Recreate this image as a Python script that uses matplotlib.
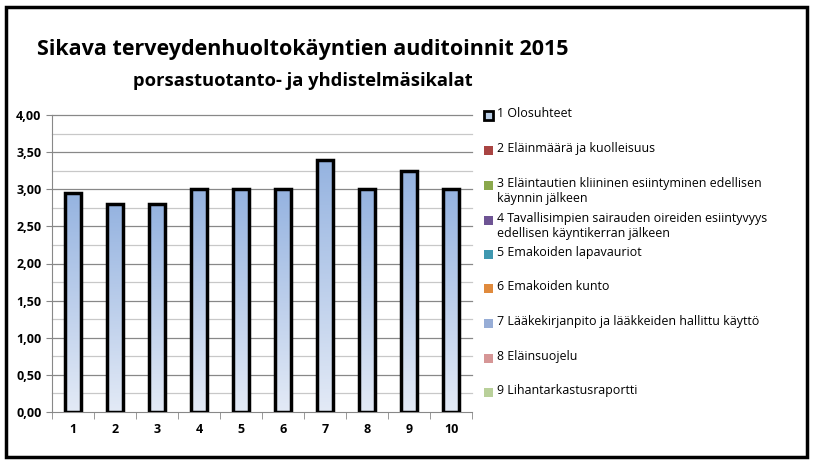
import matplotlib
matplotlib.use("Agg")
import matplotlib.pyplot as plt
import numpy as np
from matplotlib.patches import Rectangle
from matplotlib.colors import LinearSegmentedColormap

plt.rcParams["font.family"] = "Open Sans"

categories = ["1", "2", "3", "4", "5", "6", "7", "8", "9", "10"]
values = [2.95, 2.80, 2.80, 3.00, 3.00, 3.00, 3.40, 3.00, 3.25, 3.00]
legend_labels = [
    "1 Olosuhteet",
    "2 Eläinmäärä ja kuolleisuus",
    "3 Eläintautien kliininen esiintyminen edellisen\nkäynnin jälkeen",
    "4 Tavallisimpien sairauden oireiden esiintyvyys\nedellisen käyntikerran jälkeen",
    "5 Emakoiden lapavauriot",
    "6 Emakoiden kunto",
    "7 Lääkekirjanpito ja lääkkeiden hallittu käyttö",
    "8 Eläinsuojelu",
    "9 Lihantarkastusraportti",
]
legend_colors = ["#b9cde5", "#a94442", "#8aa84c", "#6e5494", "#3f98b0",
                 "#e08a3c", "#97add6", "#d69696", "#b9d09a"]
legend_y = [115, 150, 185, 220, 254, 288, 323, 358, 392]

W, H = 813, 465
fig = plt.figure(figsize=(W / 100, H / 100), dpi=100)
fig.patches.append(Rectangle((6 / W, 8 / H), 801 / W, 450 / H, transform=fig.transFigure,
                             fill=False, edgecolor="black", linewidth=2.5))

ax = fig.add_axes([52 / W, 1 - 412 / H, 420 / W, 297 / H])
x = np.arange(len(categories))
bars = ax.bar(x, values, width=0.4, facecolor="none", edgecolor="black", linewidth=2.5, zorder=3)
cmap = LinearSegmentedColormap.from_list("g", ["#e3eaf6", "#95b3e0"])
grad = np.linspace(0, 1, 256).reshape(-1, 1)
for b in bars:
    bx, bw, bh = b.get_x(), b.get_width(), b.get_height()
    im = ax.imshow(grad, cmap=cmap, origin="lower", aspect="auto",
                   extent=[bx, bx + bw, 0, bh], zorder=2)
    im.set_clip_path(b)
ax.set_xlim(-0.5, len(categories) - 0.5)
ax.set_ylim(0, 4)
ax.set_yticks(np.arange(0, 4.01, 0.5))
ax.set_yticklabels([f"{v:.2f}".replace(".", ",") for v in np.arange(0, 4.01, 0.5)],
                   fontsize=9, fontweight="bold")
ax.set_xticks(x)
ax.set_xticklabels(categories, fontsize=9, fontweight="bold")
ax.set_xticks(np.arange(-0.5, len(categories), 1), minor=True)
ax.tick_params(axis="x", which="major", length=0, pad=8)
ax.tick_params(axis="x", which="minor", length=5, color="#888888")
ax.tick_params(axis="y", length=4, color="#888888")
for v in np.arange(0.25, 4.01, 0.25):
    ax.axhline(v, color="#888888" if v % 0.5 == 0 else "#c8c8c8", linewidth=0.9,
               zorder=1, clip_on=False)
for s in ["top", "right"]:
    ax.spines[s].set_visible(False)
ax.spines["left"].set_color("#888888")
ax.spines["bottom"].set_color("#888888")

fig.text(303 / W, 1 - 50 / H, "Sikava terveydenhuoltokäyntien auditoinnit 2015",
         ha="center", va="center", fontsize=15.5, fontweight="bold")
fig.text(303 / W, 1 - 81 / H, "porsastuotanto- ja yhdistelmäsikalat",
         ha="center", va="center", fontsize=13.2, fontweight="bold")

for i, (lab, col, yy) in enumerate(zip(legend_labels, legend_colors, legend_y)):
    if i == 0:
        fig.patches.append(Rectangle((484 / W, 1 - (yy + 5) / H), 9 / W, 9 / H,
                                     transform=fig.transFigure, facecolor=col,
                                     edgecolor="black", linewidth=2))
    else:
        fig.patches.append(Rectangle((484 / W, 1 - (yy + 5) / H), 9 / W, 9 / H,
                                     transform=fig.transFigure, facecolor=col, edgecolor="none"))
    fig.text(497 / W, 1 - (yy - 8) / H, lab, ha="left", va="top", fontsize=8.9,
             linespacing=1.22)

fig.savefig("out.png", dpi=100)
